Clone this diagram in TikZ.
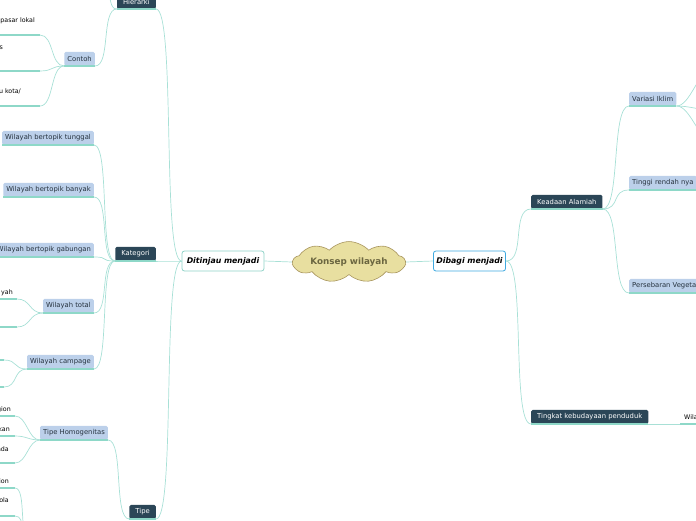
\documentclass[tikz,border=0pt]{standalone}
\usepackage{fontspec}
\setmainfont{DejaVu Sans}
\usetikzlibrary{shapes.symbols}
\definecolor{cline}{HTML}{A8E0D6}
\definecolor{ucol}{HTML}{8ED8C8}
\definecolor{darkbox}{HTML}{2B4657}
\definecolor{litebox}{HTML}{BCD0EA}
\definecolor{litetext}{HTML}{26323E}
\definecolor{ditborder}{HTML}{8FD3C8}
\definecolor{dibborder}{HTML}{3FA9E0}
\definecolor{cloudfill}{HTML}{E8DFA0}
\definecolor{cloudborder}{HTML}{A8955E}
\definecolor{cloudtext}{HTML}{6B6640}
\newcommand{\fs}{\fontsize{6.8}{8}\selectfont}
\newcommand{\lfs}{\fontsize{6.3}{7.5}\selectfont}
\tikzset{
  conn/.style={draw=cline, line width=0.7pt},
  uline/.style={draw=ucol, line width=1.5pt},
  darkn/.style={fill=darkbox, text=white, rounded corners=1.5pt, inner xsep=6pt, inner ysep=0pt, minimum height=14pt, font=\fs},
  liten/.style={fill=litebox, text=litetext, rounded corners=1.5pt, inner xsep=3pt, inner ysep=0pt, minimum height=14pt, font=\fs},
  midn/.style={fill=white, rounded corners=2.5pt, line width=0.8pt, minimum height=20pt, inner xsep=3pt, font=\fontsize{7.8}{9}\selectfont\bfseries\itshape},
  leaf/.style={font=\lfs, text=black, inner sep=0pt}
}
\begin{document}
\begin{tikzpicture}[x=1pt,y=-1pt]
\useasboundingbox (0,0) rectangle (696,520);
\clip (0,0) rectangle (696,520);

% centre
\node[cloud, cloud puffs=9, cloud puff arc=95, aspect=4.2, draw=cloudborder, fill=cloudfill, line width=0.6pt,
      minimum width=112pt, minimum height=27pt, inner sep=0pt, text=cloudtext,
      font=\fontsize{8.8}{10}\selectfont\bfseries] (cloud) at (349,262) {Konsep wilayah};
\node[midn, draw=ditborder, minimum width=82pt] (dit) at (223,261) {Ditinjau menjadi};
\node[midn, draw=dibborder, minimum width=71pt] (dib) at (469.5,261) {Dibagi menjadi};
\draw[conn] (dit.east) -- (cloud.west);
\draw[conn] (cloud.east) -- (dib.west);

% left side level 1
\node[darkn, anchor=south east] (hier) at (156,9) {Hierarki};
\node[darkn, anchor=south east] (kat) at (156,261) {Kategori};
\node[darkn, anchor=south east] (tipe) at (156,519) {Tipe};
\foreach \n in {hier,kat,tipe}{
  \draw[uline] (\n.south west) -- (\n.south east);
  \draw[conn] (dit.west) .. controls +(-20,0) and +(20,0) .. (\n.south east);
}

% Hierarki
\node[liten, anchor=south east] (contoh) at (95,66) {Contoh};
\draw[uline] (contoh.south west) -- (contoh.south east);
\draw[conn] (hier.south west) .. controls +(-16,0) and +(16,0) .. (contoh.south east);
\coordinate (hup) at (106,-8);
\draw[conn] (hier.south west) .. controls +(-8,0) and +(6,3) .. (hup);
\coordinate (c1) at (40,35);
\coordinate (c2) at (40,71);
\coordinate (c3) at (40,106);
\foreach \c in {c1,c2,c3}{
  \draw[conn] (contoh.south west) .. controls +(-14,0) and +(14,0) .. (\c);
  \draw[uline] (\c) -- ++(-45,0);
}
\node[leaf, anchor=base east] (t1) at (35,22) {pasar lokal};
\node[leaf, anchor=base east] (t2) at (3,49) {s};
\node[leaf, anchor=base east] (t3) at (21,93) {u kota/};

% Kategori
\node[liten, anchor=south east] (k1) at (94,145) {Wilayah bertopik tunggal};
\node[liten, anchor=south east] (k2) at (94,197) {Wilayah bertopik banyak};
\node[liten, anchor=south east] (k3) at (94,257) {Wilayah bertopik gabungan};
\node[liten, anchor=south east] (k4) at (94,313) {Wilayah total};
\node[liten, anchor=south east] (k5) at (94,369) {Wilayah campage};
\foreach \n in {k1,k2,k3,k4,k5}{
  \draw[uline] (\n.south west) -- (\n.south east);
  \draw[conn] (kat.south west) .. controls +(-16,0) and +(16,0) .. (\n.south east);
}
\coordinate (w1) at (17,299);
\coordinate (w2) at (17,327);
\foreach \c in {w1,w2}{
  \draw[conn] (k4.south west) .. controls +(-14,0) and +(14,0) .. (\c);
  \draw[uline] (\c) -- ++(-25,0);
}
\node[leaf, anchor=base east] (t4) at (13,294) {yah};
\coordinate (m1) at (4,360);
\coordinate (m2) at (4,387);
\foreach \c in {m1,m2}{
  \draw[conn] (k5.south west) .. controls +(-14,0) and +(14,0) .. (\c);
  \draw[uline] (\c) -- ++(-12,0);
}

% Tipe
\node[liten, anchor=south east] (tho) at (108,440) {Tipe Homogenitas};
\draw[uline] (tho.south west) -- (tho.south east);
\draw[conn] (tipe.south west) .. controls +(-16,0) and +(16,0) .. (tho.south east);
\coordinate (h1) at (15,416);
\coordinate (h2) at (15,436);
\coordinate (h3) at (15,463);
\foreach \c in {h1,h2,h3}{
  \draw[conn] (tho.south west) .. controls +(-12,0) and +(12,0) .. (\c);
  \draw[uline] (\c) -- ++(-22,0);
}
\node[leaf, anchor=base east] (t5) at (11,411) {gion};
\node[leaf, anchor=base east] (t6) at (10,431) {kan};
\node[leaf, anchor=base east] (t7) at (9,451) {ada};
\coordinate (lowp) at (30,540);
\coordinate (g1) at (15,488);
\coordinate (g2) at (15,516);
\foreach \c in {g1,g2}{
  \draw[conn] (lowp) .. controls +(-12,0) and +(12,0) .. (\c);
  \draw[uline] (\c) -- ++(-22,0);
}
\node[leaf, anchor=base east] (t8) at (9,483) {ion};
\node[leaf, anchor=base east] (t9) at (9,502) {ola};

% right side
\node[darkn, anchor=south west] (kea) at (531,209) {Keadaan Alamiah};
\node[darkn, anchor=south west] (ting) at (531,424) {Tingkat kebudayaan penduduk};
\foreach \n in {kea,ting}{
  \draw[uline] (\n.south west) -- (\n.south east);
  \draw[conn] (dib.east) .. controls +(20,0) and +(-20,0) .. (\n.south west);
}
\node[liten, anchor=south west] (var) at (629,106) {Variasi Iklim};
\node[liten, anchor=south west] (tin) at (629,190) {Tinggi rendah nya\hspace{30pt}};
\node[liten, anchor=south west] (per) at (629,293) {Persebaran Vegeta\hspace{30pt}};
\foreach \n in {var,tin,per}{
  \draw[uline] (\n.south west) -- (\n.south east);
  \draw[conn] (kea.south east) .. controls +(18,0) and +(-18,0) .. (\n.south west);
}
\coordinate (v1) at (712,70);
\coordinate (v2) at (712,110);
\coordinate (v3) at (712,140);
\foreach \c in {v1,v2,v3}{
  \draw[conn] (var.south east) .. controls +(14,0) and +(-14,0) .. (\c);
}
\coordinate (wl) at (680,424);
\draw[conn] (ting.south east) -- (wl);
\draw[uline] (wl) -- ++(30,0);
\node[leaf, anchor=base west] (t10) at (684,419) {Wila};
\end{tikzpicture}
\end{document}
